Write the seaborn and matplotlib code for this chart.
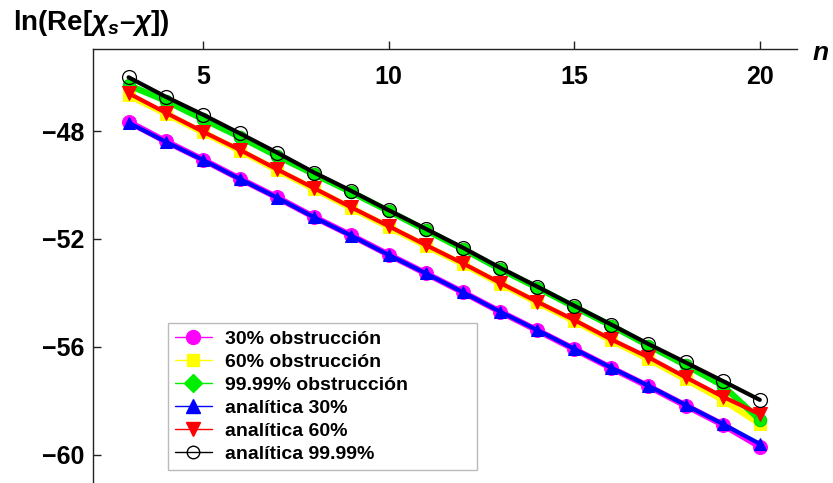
import matplotlib
matplotlib.use('Agg')
import matplotlib.pyplot as plt
from matplotlib.lines import Line2D
import seaborn as sns

n = [3, 4, 5, 6, 7, 8, 9, 10, 11, 12, 13, 14, 15, 16, 17, 18, 19, 20]

obs_30 = [-47.66, -48.38, -49.06, -49.77, -50.46, -51.19, -51.87, -52.58, -53.27,
          -53.97, -54.69, -55.38, -56.08, -56.78, -57.46, -58.17, -58.88, -59.69]
obs_60 = [-46.68, -47.36, -48.05, -48.73, -49.45, -50.15, -50.86, -51.55, -52.25,
          -52.93, -53.65, -54.35, -55.04, -55.76, -56.45, -57.20, -57.96, -58.85]
obs_9999 = [-46.30, -46.88, -47.56, -48.22, -48.93, -49.60, -50.27, -50.96, -51.67,
            -52.37, -53.11, -53.80, -54.51, -55.21, -55.95, -56.67, -57.43, -58.70]
ana_30 = [-47.69, -48.40, -49.07, -49.78, -50.47, -51.20, -51.88, -52.59, -53.27,
          -53.97, -54.69, -55.37, -56.07, -56.77, -57.44, -58.15, -58.85, -59.59]
ana_60 = [-46.60, -47.32, -48.02, -48.70, -49.42, -50.12, -50.83, -51.52, -52.22,
          -52.90, -53.62, -54.32, -55.00, -55.72, -56.38, -57.12, -57.84, -58.49]
ana_9999 = [-46.01, -46.73, -47.39, -48.09, -48.80, -49.54, -50.22, -50.93, -51.62,
            -52.32, -53.06, -53.76, -54.47, -55.17, -55.89, -56.57, -57.26, -57.96]

labels = ['30% obstrucción', '60% obstrucción', '99.99% obstrucción',
          'analítica 30%', 'analítica 60%', 'analítica 99.99%']
xticks = [5, 10, 15, 20]
yticks = [-48, -52, -56, -60]

sns.set_style('ticks')
plt.rcParams['font.family'] = ['Liberation Sans', 'DejaVu Sans']
plt.rcParams['font.weight'] = 'bold'
plt.rcParams['text.color'] = 'black'
plt.rcParams['axes.labelcolor'] = 'black'
plt.rcParams['mathtext.fontset'] = 'custom'
plt.rcParams['mathtext.it'] = 'Liberation Sans:italic:bold'
plt.rcParams['mathtext.rm'] = 'Liberation Sans:bold'

fig = plt.figure(figsize=(8.33, 4.83), dpi=100)
ax = fig.add_axes([0.1116, 0.0, 0.8451, 0.8986])

# thick "numeric" curves underneath, analytic curves on top
sns.lineplot(x=n, y=obs_30, ax=ax, color='magenta', lw=4.5, marker='o', markersize=10,
             markeredgecolor='magenta', zorder=2)
sns.lineplot(x=n, y=obs_60, ax=ax, color='yellow', lw=4.5, marker='s', markersize=9,
             markeredgecolor='yellow', zorder=2)
sns.lineplot(x=n, y=obs_9999, ax=ax, color='#00ee00', lw=4.5, marker='o', markersize=9,
             markeredgecolor='#00cc00', zorder=2)
sns.lineplot(x=n, y=ana_30, ax=ax, color='blue', lw=3, marker='^', markersize=9,
             markeredgecolor='blue', zorder=3)
sns.lineplot(x=n, y=ana_60, ax=ax, color='red', lw=3, marker='v', markersize=10,
             markeredgecolor='red', zorder=3)
sns.lineplot(x=n, y=ana_9999, ax=ax, color='black', lw=3, marker='o', markersize=10,
             markerfacecolor='none', markeredgecolor='black', markeredgewidth=0.9, zorder=4)

ax.set_xlim(2.04, 21.0)
ax.set_ylim(-61.04, -44.96)

for side in ['right', 'bottom']:
    ax.spines[side].set_visible(False)
for side in ['left', 'top']:
    ax.spines[side].set_linewidth(1)
    ax.spines[side].set_color('#222222')

ax.set_xticks(xticks)
ax.set_yticks(yticks)
ax.xaxis.tick_top()
ax.tick_params(axis='x', direction='out', length=6, width=1, pad=-35, labelsize=18,
               colors='#222222', labelcolor='black')
ax.tick_params(axis='y', direction='in', length=6, width=1, pad=6, labelsize=18,
               colors='#222222', labelcolor='black')

ax.set_ylabel(r'ln(Re[$\chi_s$–$\chi$])', rotation=0, fontsize=20, fontweight='bold')
ax.yaxis.label.set_ha('left')
ax.yaxis.label.set_va('baseline')
ax.yaxis.set_label_coords(-0.1136, 1.0438)

ax.set_xlabel('n', fontsize=19, fontstyle='italic', fontweight='bold')
ax.xaxis.set_label_position('top')
ax.xaxis.label.set_va('center')
ax.xaxis.set_label_coords(1.033, 0.99)

handles = [
    Line2D([], [], color='magenta', lw=1, marker='o', markersize=10, markeredgecolor='magenta'),
    Line2D([], [], color='yellow', lw=1, marker='s', markersize=8, markeredgecolor='yellow'),
    Line2D([], [], color='#00ee00', lw=1, marker='D', markersize=9, markeredgecolor='#00ee00'),
    Line2D([], [], color='blue', lw=1, marker='^', markersize=10, markeredgecolor='blue'),
    Line2D([], [], color='red', lw=1, marker='v', markersize=10, markeredgecolor='red'),
    Line2D([], [], color='black', lw=1, marker='o', markersize=9, markerfacecolor='none',
           markeredgecolor='black'),
]
leg = ax.legend(handles, labels, loc='lower left', bbox_to_anchor=(0.1065, 0.030, 0.4385, 0.341),
                mode='expand', borderaxespad=0, fontsize=14, handlelength=1.9,
                handletextpad=0.7, labelspacing=0.28, borderpad=0.35, fancybox=False,
                framealpha=1, edgecolor='#bbbbbb')
leg.get_frame().set_linewidth(1)
for t in leg.get_texts():
    t.set_color('black')

fig.savefig('out.png', dpi=100)
